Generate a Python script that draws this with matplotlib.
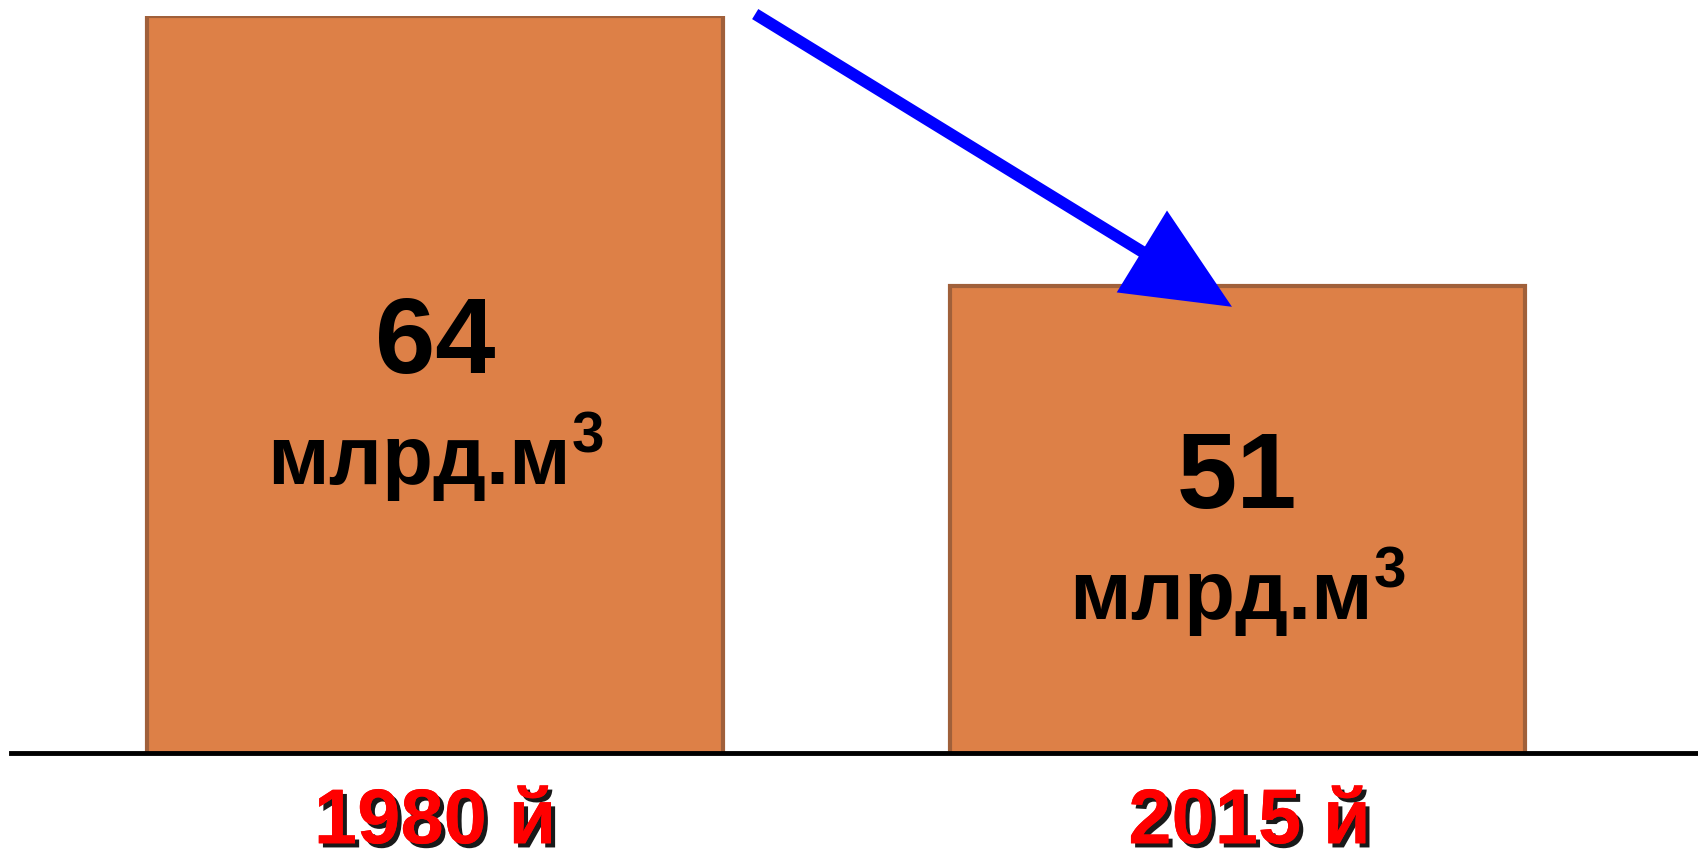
import matplotlib
matplotlib.use("Agg")
import matplotlib.pyplot as plt
import matplotlib.patheffects as pe
from matplotlib.patches import FancyArrowPatch
from matplotlib.transforms import blended_transform_factory

years = ["1980 й", "2015 й"]
volumes = [64, 51]
unit = r"млрд.м$^{\mathbf{3}}$"

plt.rcParams["font.family"] = ["Liberation Sans", "DejaVu Sans"]
plt.rcParams["mathtext.fontset"] = "custom"
plt.rcParams["mathtext.bf"] = "Liberation Sans:bold"
plt.rcParams["mathtext.rm"] = "Liberation Sans"

fig = plt.figure(figsize=(16.99, 8.63), dpi=100)
ax = fig.add_axes([0.0064, 0.1269, 0.9936, 0.8543])

x = list(range(len(volumes)))
ymin = 28.5
ax.bar(x, volumes, width=0.717, color="#DD8047", edgecolor="#A0603A", linewidth=3)
ax.set_xlim(-0.5287, 1.5753)
ax.set_ylim(ymin, 64)

for s in ["left", "top", "right"]:
    ax.spines[s].set_visible(False)
ax.spines["bottom"].set_linewidth(3.5)
ax.spines["bottom"].set_color("black")
ax.set_xticks([])
ax.set_yticks([])

trans = blended_transform_factory(ax.transData, ax.transAxes)
for xi, v, yr in zip(x, volumes, years):
    mid = (ymin + v) / 2
    ax.text(xi, mid + 1.9, str(v), ha="center", va="center",
            fontsize=78, fontweight="bold", color="black")
    ax.text(xi, mid - 3.5, unit, ha="center", va="center",
            fontsize=60, fontweight="bold", color="black")
    ax.text(xi + 0.015 * xi, -0.094, yr, transform=trans, ha="center", va="center",
            fontsize=56, fontweight="bold", color="#FF0000",
            path_effects=[pe.withSimplePatchShadow(offset=(3, -3), shadow_rgbFace="black", alpha=0.9),
                          pe.Normal()])

# decrease arrow
arrow = FancyArrowPatch((0.4445, 0.9837), (0.7251, 0.6445), transform=fig.transFigure,
                        arrowstyle="-|>,head_length=1.1,head_width=0.5", mutation_scale=56,
                        color="#0000FF", lw=8.5, shrinkA=0, shrinkB=0,
                        capstyle="butt", joinstyle="miter")
fig.patches.append(arrow)

fig.savefig("out.png", dpi=100)
